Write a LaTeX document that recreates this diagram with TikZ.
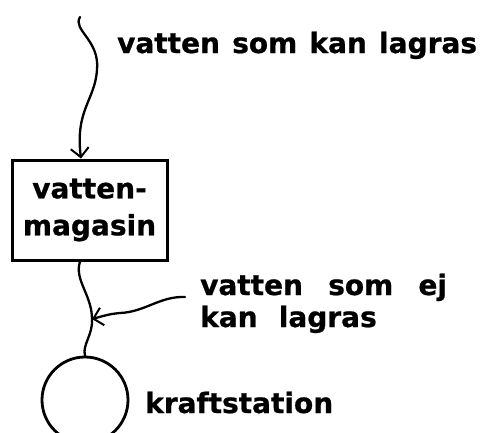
\documentclass[tikz,border=0pt]{standalone}
\usepackage{fontspec}
\newfontfamily\hand{DejaVu Sans Bold}[WordSpace=1.25, FakeBold=0.8]
\usetikzlibrary{arrows.meta}
\begin{document}
\begin{tikzpicture}[x=1pt,y=-1pt,
  lbl/.style={font=\fontsize{28}{32}\selectfont\hand, anchor=base west, inner sep=0pt},
  flow/.style={line width=2.3pt, line cap=round},
  tip/.style={-{Straight Barb[length=9pt,width=18pt,line width=2pt]}},
  boxed/.style={draw, line width=3pt, minimum width=155pt, minimum height=100pt, inner sep=0pt, align=center, font=\fontsize{28}{37}\selectfont\hand},
  station/.style={draw, circle, line width=2.8pt, minimum size=86pt, inner sep=0pt}
]
\useasboundingbox (0,0) rectangle (482,432);
\node[boxed] (mag) at (89.5,210) {vatten-\\magasin};
\node[station] (ks) at (85,400) {};
\coordinate (src) at (80,17);
\coordinate (src2) at (185,297);
\coordinate (j) at (92,319);
\draw[flow,tip] (src) .. controls (72,30) and (100,40) .. (97,70) .. controls (95,100) and (75,110) .. ([xshift=-8.5pt]mag.north);
\draw[flow] ([xshift=-9.5pt]mag.south) .. controls (74,280) and (92,295) .. (j) .. controls (93,335) and (82,345) .. (ks.north);
\draw[flow,tip] (src2) .. controls (160,296) and (145,312) .. (120,313) .. controls (108,314) and (100,317) .. (j);
\node[lbl] (t1) at (117,53) {vatten som kan lagras};
\node[lbl] (t2a) at (200,295) {vatten\hspace{13pt} som\hspace{13pt} ej};
\node[lbl] (t2b) at (200,327) {kan\hspace{9pt} lagras};
\node[lbl] (t3) at (145,413) {kraftstation};
\end{tikzpicture}
\end{document}
